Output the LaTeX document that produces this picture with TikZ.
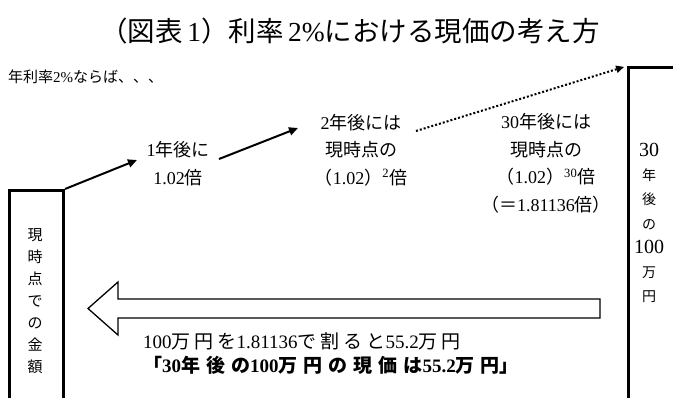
\documentclass[tikz,border=0pt]{standalone}
\usepackage{fontspec}
\setmainfont{Liberation Serif}
\newfontfamily\jp{Noto Sans CJK JP}
\usetikzlibrary{arrows.meta}
\newcommand\hs{\hspace{4pt}}
\newcommand\hb{\hspace{6pt}}
\begin{document}
\begin{tikzpicture}[x=1pt,y=-1pt,
  lbl/.style={inner sep=0pt, align=center},
  grp/.style={lbl, font=\fontsize{18}{27.5}\selectfont},
  solidarrow/.style={line width=2pt, -{Triangle[length=9pt,width=8pt]}},
  dotarrow/.style={line width=2pt, dotted, -{Triangle[length=8pt,width=7pt]}},
  frame/.style={draw, line width=3pt, inner sep=0pt, anchor=north west},
  hollow/.style={line width=1.3pt, line join=miter}]
\useasboundingbox (0,0) rectangle (673,397);
\clip (0,0) rectangle (673,397);

% title
\node[lbl, font=\fontsize{27.5}{30}\selectfont] (title) at (350,31)
  {{\jp （図表}\,1{\jp ）利率}\,2\%{\jp における現価の考え方}};
\node[lbl, anchor=west, font=\fontsize{15}{17}\selectfont] (rate) at (8,77)
  {{\jp 年利率}2\%{\jp ならば、、、}};

% boxes
\node[frame, minimum width=54pt, minimum height=240pt] (nowbox) at (8,189) {};
\node[frame, minimum width=80pt, minimum height=360pt] (futbox) at (627,66) {};

\node[lbl, font=\fontsize{15}{22}\selectfont\jp] (nowtext) at (35,301)
  {現\\時\\点\\で\\の\\金\\額};
\node[lbl, font=\fontsize{14}{24.3}\selectfont] (futtext) at (649,223)
  {\fontsize{20}{24.3}\selectfont 30\\{\jp 年}\\{\jp 後}\\{\jp の}\\\fontsize{20}{24.3}\selectfont 100\\{\jp 万}\\{\jp 円}};

% growth labels
\node[grp] (g1) at (178,163.5) {1{\jp 年後に}\\1.02{\jp 倍}};
\node[grp] (g2) at (361,150) {2{\jp 年後には}\\{\jp 現時点の}\\{\jp （}1.02{\jp ）}\textsuperscript{2}{\jp 倍}};
\node[grp] (g3) at (546,163.5) {30{\jp 年後には}\\{\jp 現時点の}\\{\jp （}1.02{\jp ）}\textsuperscript{30}{\jp 倍}\\{\jp （＝}1.81136{\jp 倍）}};

% arrows
\coordinate (t1) at (137,160);
\coordinate (s2) at (219,159);
\coordinate (t2) at (298,128);
\coordinate (s3) at (416,131);
\draw[solidarrow] (nowbox.north east) -- (t1);
\draw[solidarrow] (s2) -- (t2);
\draw[dotarrow, shorten >=3pt] (s3) -- (futbox.north west);

% hollow arrow
\draw[hollow] (600,299) -- (118,299) -- (118,282) -- (88,308.5) -- (118,335) -- (118,318) -- (600,318) -- cycle;

% bottom texts
\node[lbl, anchor=west, font=\fontsize{19}{20}\selectfont] (calc) at (143,341)
  {100{\jp 万\hs 円\hs を}1.81136{\jp で\hs 割\hs る\hs と}55.2{\jp 万\hs 円}};
\node[lbl, anchor=west, font=\fontsize{19}{20}\selectfont\bfseries] (result) at (143,365)
  {{\jp 「}30{\jp 年\hb 後\hb の}100{\jp 万\hb 円\hb の\hb 現\hb 価\hb は}55.2{\jp 万\hb 円」}};
\end{tikzpicture}
\end{document}
